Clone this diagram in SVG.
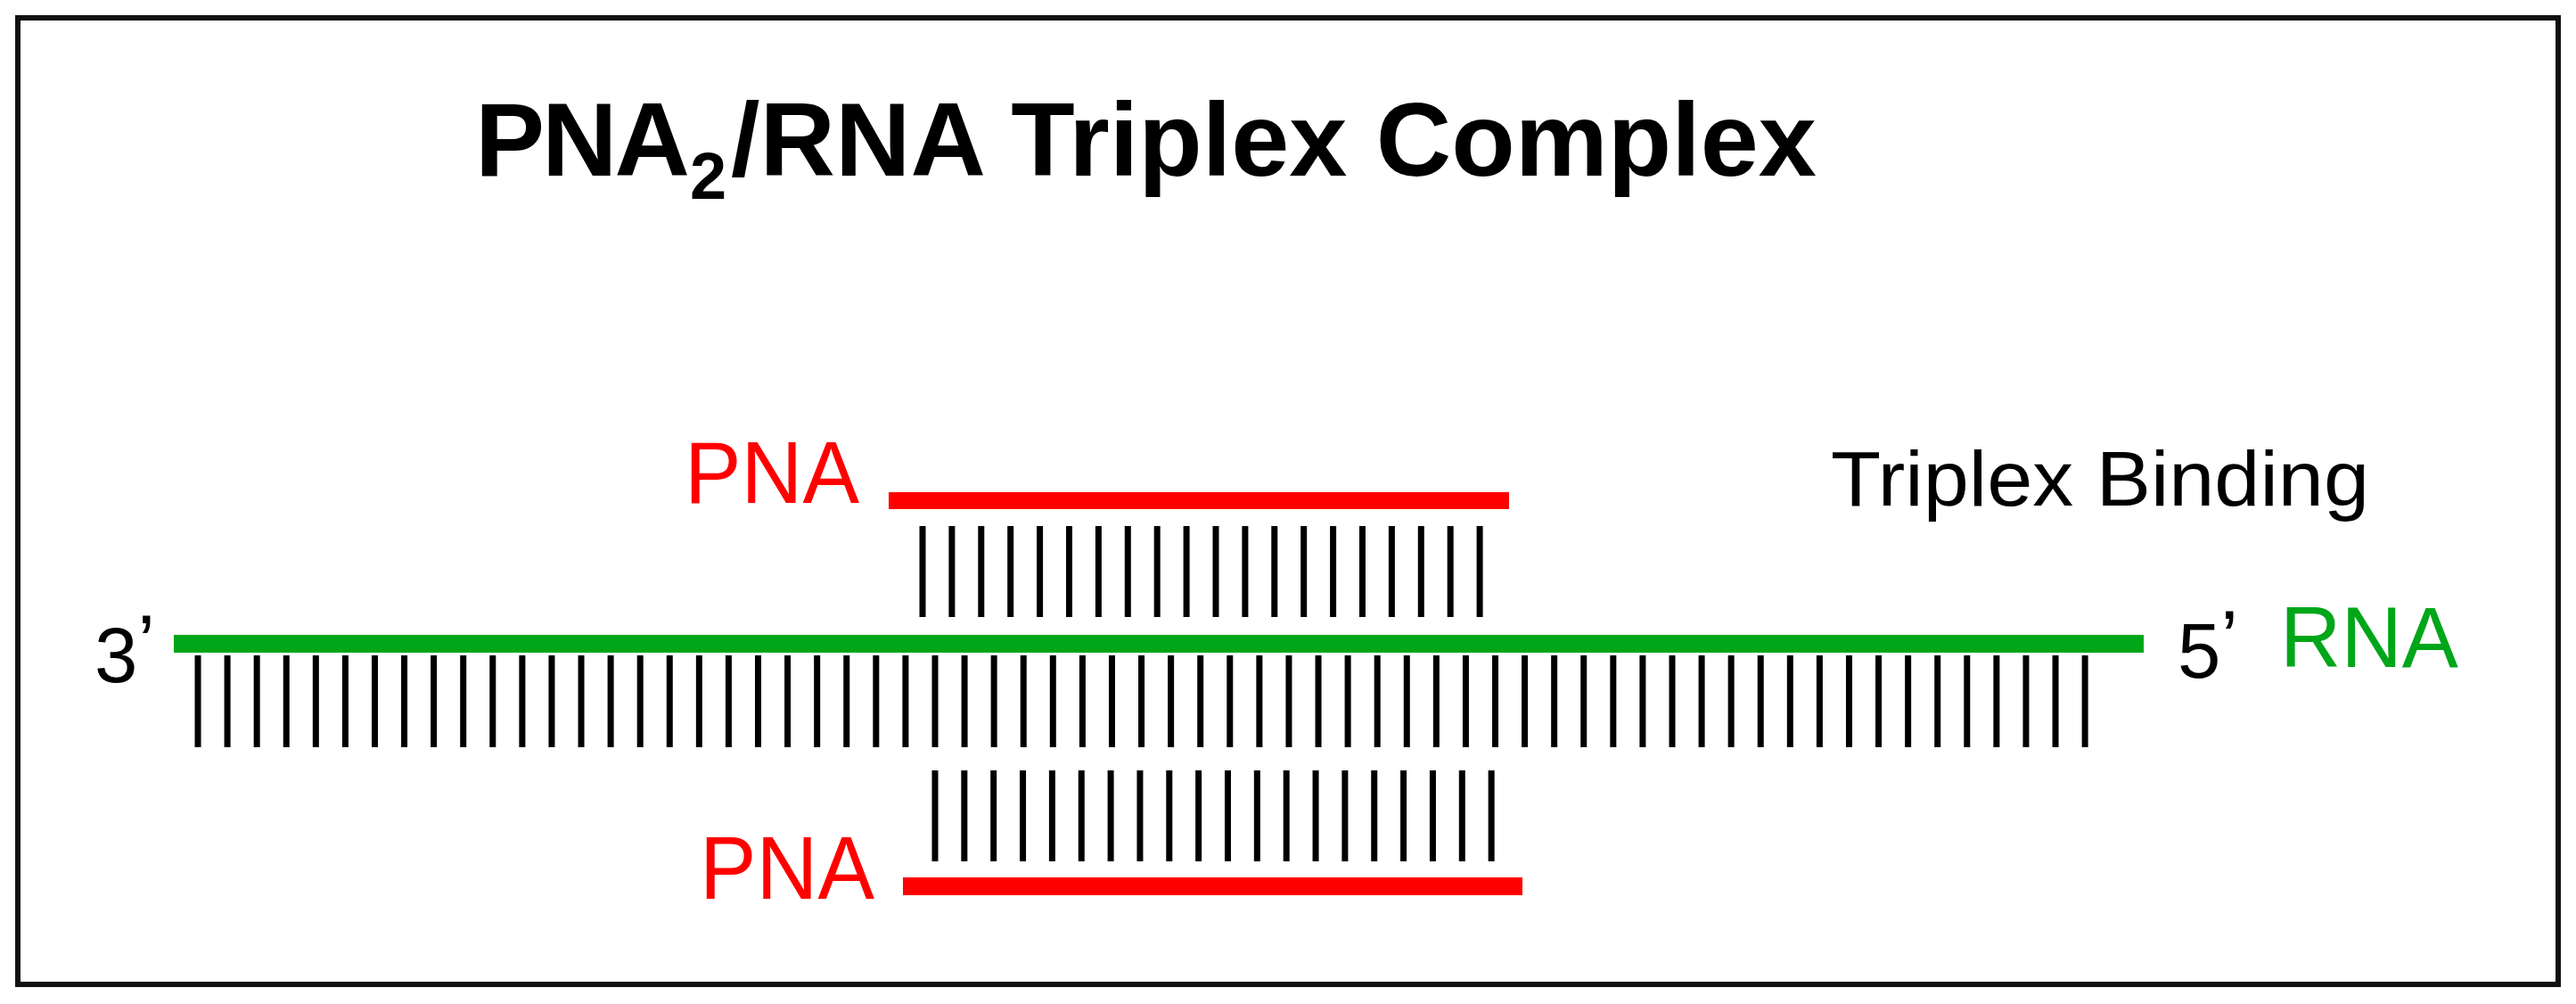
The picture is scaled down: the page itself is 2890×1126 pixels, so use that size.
<svg xmlns="http://www.w3.org/2000/svg" width="2890" height="1126" viewBox="0 0 2890 1126">
  <style>
    .lbl { font-family: "Liberation Sans", Arial, sans-serif; }
    .title { font-family: "Liberation Sans", Arial, sans-serif; font-weight: bold; fill: #000; }
    .red { fill: #FF0000; }
    .green { fill: #00A619; }
    .blk { fill: #000; }
    .ticks { fill: none; stroke: #000; }
  </style>
  <rect width="2890" height="1126" fill="#fff"/>
  <g id="frame">
    <rect x="20" y="20" width="2850" height="1084" fill="#fff" stroke="#111" stroke-width="6"/>
  </g>
  <g id="title">
    <text class="title" x="533" y="197" font-size="117"><tspan letter-spacing="-3">PNA</tspan><tspan x="774" dy="26" font-size="74">2</tspan><tspan x="820" dy="-26">/RNA Triplex Complex</tspan></text>
  </g>
  <g id="strands">
    <rect id="rna-strand" x="195" y="712" width="2210" height="20" class="green"/>
    <rect id="pna-top-strand" x="997" y="552" width="696" height="19" class="red"/>
    <rect id="pna-bottom-strand" x="1013" y="984" width="695" height="20" class="red"/>
  </g>
  <g id="base-pairs">
    <line id="rna-bases" class="ticks" x1="218.5" y1="786.5" x2="2342.6" y2="786.5" stroke-width="103" stroke-dasharray="7 26.08"/>
    <line id="pna-top-bases" class="ticks" x1="1031.5" y1="641" x2="1663.6" y2="641" stroke-width="102" stroke-dasharray="7 25.9"/>
    <line id="pna-bottom-bases" class="ticks" x1="1045.5" y1="915" x2="1676.7" y2="915" stroke-width="102" stroke-dasharray="7 25.85"/>
  </g>
  <g id="labels">
    <text class="lbl blk" x="106" y="765" font-size="87">3<tspan dy="-14">’</tspan></text>
    <text class="lbl blk" x="2443" y="760" font-size="87">5<tspan dy="-14">’</tspan></text>
    <text class="lbl green" x="2558" y="748" font-size="96" textLength="200" lengthAdjust="spacingAndGlyphs">RNA</text>
    <text class="lbl red" x="768" y="564" font-size="98" textLength="196" lengthAdjust="spacingAndGlyphs">PNA</text>
    <text class="lbl red" x="785" y="1008" font-size="100" textLength="196" lengthAdjust="spacingAndGlyphs">PNA</text>
    <text class="lbl blk" x="2054" y="567" font-size="87" textLength="604" lengthAdjust="spacingAndGlyphs">Triplex Binding</text>
  </g>
</svg>
